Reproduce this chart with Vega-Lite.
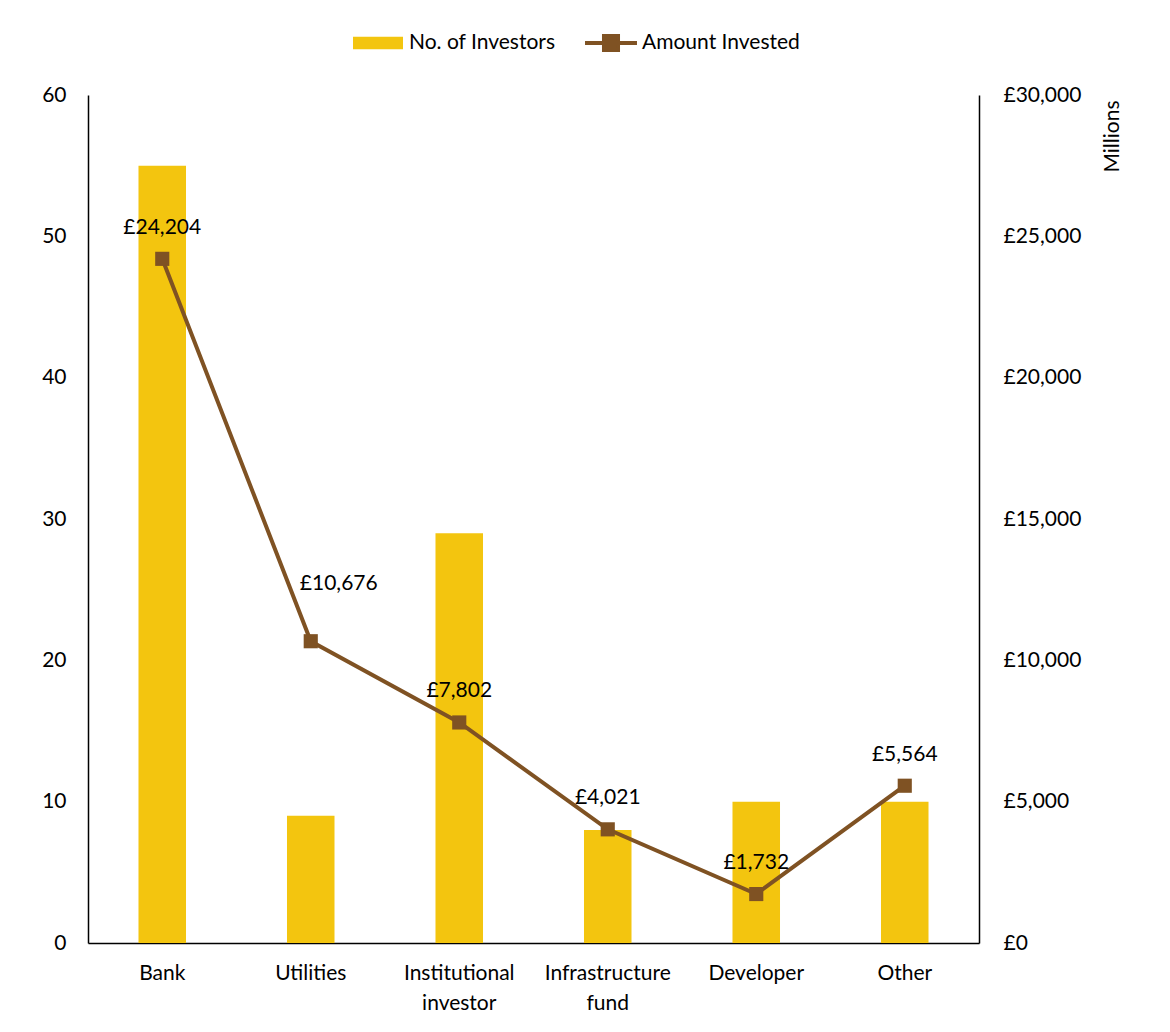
{
  "$schema": "https://vega.github.io/schema/vega-lite/v6.json",
  "autosize": {"type": "none"},
  "width": 891,
  "height": 848,
  "padding": {"left": 88, "top": 95, "right": 191, "bottom": 89},
  "background": "white",
  "config": {
    "font": "Lato",
    "view": {"stroke": null},
    "locale": {"number": {"decimal": ".", "thousands": ",", "grouping": [3], "currency": ["£", ""]}},
    "axis": {"labelFont": "Lato", "labelFontSize": 21, "labelColor": "#000000", "titleFont": "Lato", "titleColor": "#000000", "titleFontWeight": "normal", "domainColor": "#000000", "domainWidth": 1.5, "ticks": false, "grid": false},
    "legend": {"labelFont": "Lato", "labelFontSize": 21, "labelColor": "#000000"}
  },
  "data": {
    "values": [
      {"category": "Bank", "investors": 55, "amount": 24204},
      {"category": "Utilities", "investors": 9, "amount": 10676},
      {"category": "Institutional investor", "investors": 29, "amount": 7802},
      {"category": "Infrastructure fund", "investors": 8, "amount": 4021},
      {"category": "Developer", "investors": 10, "amount": 1732},
      {"category": "Other", "investors": 10, "amount": 5564}
    ]
  },
  "encoding": {
    "x": {
      "field": "category",
      "type": "nominal",
      "sort": null,
      "scale": {"paddingInner": 0.68, "paddingOuter": 0.34},
      "axis": {
        "orient": "bottom",
        "title": null,
        "labelAngle": 0,
        "labelPadding": 19,
        "labelExpr": "datum.value == 'Institutional investor' ? ['Institutional', 'investor'] : datum.value == 'Infrastructure fund' ? ['Infrastructure', 'fund'] : datum.value",
        "labelLineHeight": 30,
        "labelBaseline": "top"
      }
    }
  },
  "layer": [
    {
      "mark": {"type": "bar", "color": "#F3C50F"},
      "encoding": {
        "y": {
          "field": "investors",
          "type": "quantitative",
          "scale": {"domain": [0, 60], "nice": false},
          "axis": {"orient": "left", "title": null, "values": [0, 10, 20, 30, 40, 50, 60], "labelPadding": 22}
        },
        "fill": {
          "datum": "No. of Investors",
          "type": "nominal",
          "scale": {"range": ["#F3C50F"]},
          "legend": {
            "title": null,
            "orient": "none",
            "legendX": 265,
            "legendY": -77,
            "symbolType": "M-1,-0.25H1V0.25H-1Z",
            "symbolSize": 2500,
            "symbolStrokeWidth": 0,
            "labelOffset": 6
          }
        }
      }
    },
    {
      "encoding": {
        "y": {
          "field": "amount",
          "type": "quantitative",
          "scale": {"domain": [0, 30000], "nice": false},
          "axis": {
            "orient": "right",
            "title": "Millions",
            "titleFontSize": 21,
            "titleAngle": 270,
            "titleAlign": "right",
            "titleAnchor": "end",
            "titleBaseline": "bottom",
            "titleX": 143,
            "titleY": 5,
            "values": [0, 5000, 10000, 15000, 20000, 25000, 30000],
            "format": "$,.0f",
            "labelPadding": 24
          }
        }
      },
      "layer": [
        {
          "mark": {"type": "line", "color": "#7F5223", "strokeWidth": 4},
          "encoding": {
            "stroke": {
              "datum": "Amount Invested",
              "type": "nominal",
              "scale": {"range": ["#7F5223"]},
              "legend": {
                "title": null,
                "orient": "none",
                "legendX": 495,
                "legendY": -80,
                "symbolType": "M-1,0H1M-0.27,-0.27H0.27V0.27H-0.27Z",
                "symbolSize": 2700,
                "symbolStrokeWidth": 4,
                "symbolFillColor": "#7F5223",
                "labelOffset": 3
              }
            }
          }
        },
        {
          "mark": {"type": "square", "color": "#7F5223", "size": 200, "opacity": 1}
        },
        {
          "transform": [{"filter": "datum.category != 'Utilities'"}],
          "mark": {"type": "text", "fontSize": 21, "dy": -31, "color": "#000000"},
          "encoding": {
            "text": {"field": "amount", "type": "quantitative", "format": "$,.0f"}
          }
        },
        {
          "transform": [{"filter": "datum.category == 'Utilities'"}],
          "mark": {"type": "text", "fontSize": 21, "dy": -57, "dx": 28, "color": "#000000"},
          "encoding": {
            "text": {"field": "amount", "type": "quantitative", "format": "$,.0f"}
          }
        }
      ]
    }
  ],
  "resolve": {"scale": {"y": "independent"}}
}
